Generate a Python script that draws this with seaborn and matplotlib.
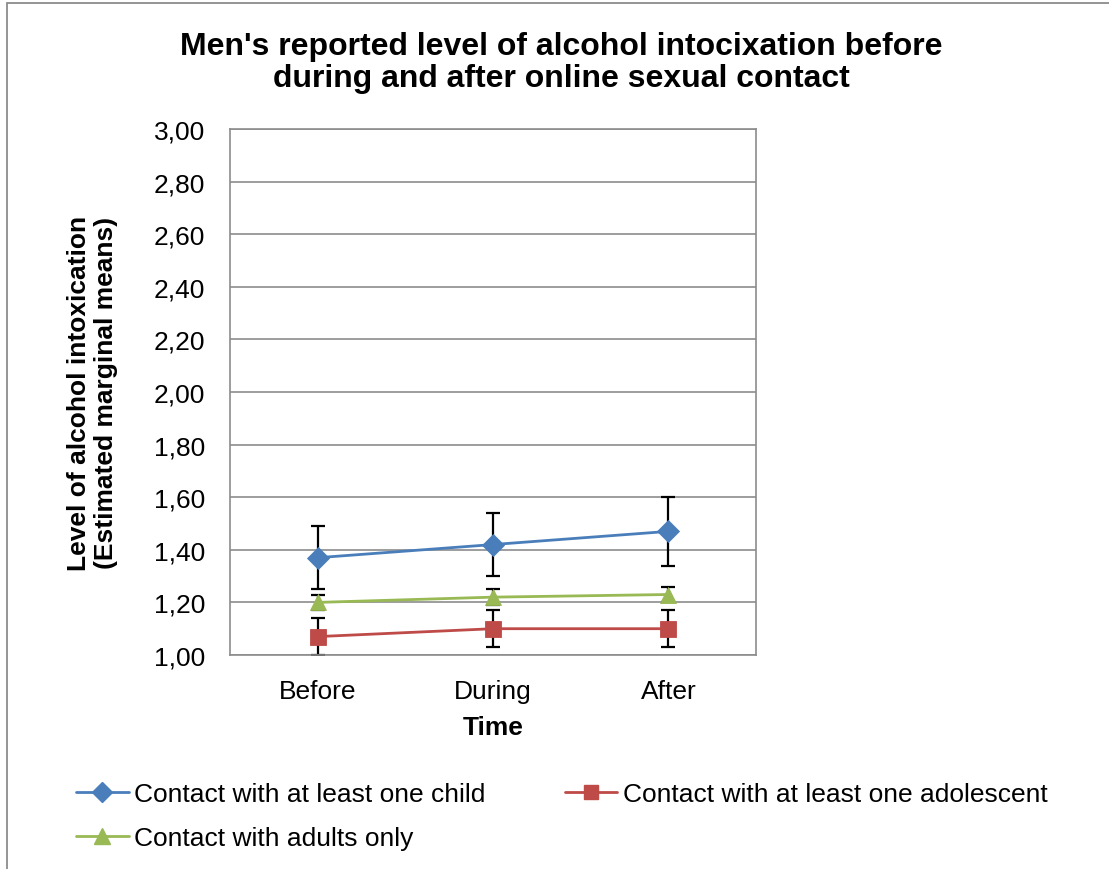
import matplotlib
matplotlib.use("Agg")
import matplotlib.pyplot as plt
from matplotlib.patches import Rectangle
from matplotlib.ticker import FixedLocator, FuncFormatter
import numpy as np
import pandas as pd
import seaborn as sns

# Estimated marginal means and error bar half-widths per group
times = ["Before", "During", "After"]
groups = ["Contact with at least one child",
          "Contact with at least one adolescent",
          "Contact with adults only"]
child_means = [1.37, 1.42, 1.47]
child_err = [0.12, 0.12, 0.13]
adolescent_means = [1.07, 1.10, 1.10]
adolescent_err = [0.07, 0.07, 0.07]
adults_means = [1.20, 1.22, 1.23]
adults_err = [0.03, 0.03, 0.03]
y_ticks = [1.0, 1.2, 1.4, 1.6, 1.8, 2.0, 2.2, 2.4, 2.6, 2.8, 3.0]

means = [child_means, adolescent_means, adults_means]
errs = [child_err, adolescent_err, adults_err]
colors = ["#4A7EBB", "#BE4B48", "#98B954"]
markers = ["D", "s", "^"]
msizes = [11, 11, 12]

rows = []
for g, m, e in zip(groups, means, errs):
    for i, t in enumerate(times):
        rows.append({"group": g, "pos": i, "time": t, "mean": m[i], "err": e[i]})
df = pd.DataFrame(rows)

sns.set_theme(style="white")
plt.rcParams["font.family"] = ["Liberation Sans", "DejaVu Sans"]
plt.rcParams["text.color"] = "black"
plt.rcParams["axes.labelcolor"] = "black"
plt.rcParams["xtick.color"] = "black"
plt.rcParams["ytick.color"] = "black"

fig = plt.figure(figsize=(11.09, 8.70), dpi=100)
ax = fig.add_axes([230 / 1109, 1 - 656 / 870, 526 / 1109, 526 / 870])

# Outer chart frame (top and left edges visible)
fig.add_artist(Rectangle((7 / 1109, -0.05), 1.2, 1 - 4 / 870 + 0.05,
                         transform=fig.transFigure, fill=False,
                         edgecolor="#8C8C8C", linewidth=1.3, zorder=0))

for g in groups:
    sub = df[df["group"] == g]
    ax.errorbar(sub["pos"], sub["mean"], yerr=sub["err"], fmt="none",
                ecolor="black", elinewidth=1.6, capsize=5, capthick=1.6,
                zorder=2)

sns.lineplot(data=df, x="pos", y="mean", hue="group", style="group",
             hue_order=groups, style_order=groups,
             palette=dict(zip(groups, colors)),
             markers=dict(zip(groups, markers)), dashes=False,
             linewidth=2.0, markersize=10, markeredgewidth=0.6,
             ax=ax, zorder=3, legend=False)

# per-series marker sizes and edges
for line, c, ms in zip(ax.get_lines()[-3:], colors, msizes):
    line.set_markersize(ms)
    line.set_markeredgecolor(c)

ax.set_xlim(-0.5, 2.5)
ax.set_ylim(1.0, 3.0)
ax.yaxis.set_major_locator(FixedLocator(y_ticks))
ax.yaxis.set_major_formatter(FuncFormatter(lambda v, p: f"{v:.2f}".replace(".", ",")))
ax.xaxis.set_major_locator(FixedLocator([-0.5, 0.5, 1.5, 2.5]))
ax.xaxis.set_major_formatter(FuncFormatter(lambda v, p: ""))
ax.xaxis.set_minor_locator(FixedLocator([0, 1, 2]))
ax.set_xticklabels(times, minor=True)
ax.tick_params(axis="x", which="minor", length=0, labelsize=19, pad=17,
               labelcolor="black")
ax.tick_params(axis="x", which="major", length=6, width=1.2, color="#8C8C8C",
               direction="out")
ax.tick_params(axis="y", which="major", length=6, width=1.2, color="#8C8C8C",
               direction="out", labelsize=19, pad=12, labelcolor="black")
ax.grid(axis="y", color="#8C8C8C", linewidth=1.2)
ax.grid(axis="x", visible=False)
ax.set_axisbelow(True)
for s in ax.spines.values():
    s.set_visible(True)
    s.set_color("#8C8C8C")
    s.set_linewidth(1.2)

ax.set_xlabel("Time", fontsize=19, fontweight="bold")
ax.xaxis.set_label_coords(0.5, -(716 - 656) / 526)
ax.set_ylabel("Level of alcohol intoxication\n(Estimated marginal means)",
              fontsize=19, fontweight="bold", linespacing=1.15)
ax.yaxis.set_label_coords(-(230 - 118) / 526, 0.5)

fig.text(561 / 1109, 1 - 63 / 870,
         "Men's reported level of alcohol intocixation before\n"
         "during and after online sexual contact",
         ha="center", va="center", fontsize=23, fontweight="bold",
         linespacing=1.1)

handles = []
for g, c, mk, ms in zip(groups, colors, markers, msizes):
    h, = ax.plot([], [], color=c, marker=mk, markersize=ms - 1,
                 markeredgecolor=c, linewidth=2.0)
    handles.append(h)
order = [0, 2, 1]
leg = fig.legend([handles[i] for i in order], [groups[i] for i in order],
                 ncol=2, loc="upper left",
                 bbox_to_anchor=(76 / 1109, 1 - 783 / 870),
                 frameon=False, fontsize=19, handlelength=2.0,
                 handletextpad=0.2, columnspacing=3.0, labelspacing=0.75,
                 borderaxespad=0, borderpad=0)

fig.savefig("out.png", dpi=100, facecolor="white")
